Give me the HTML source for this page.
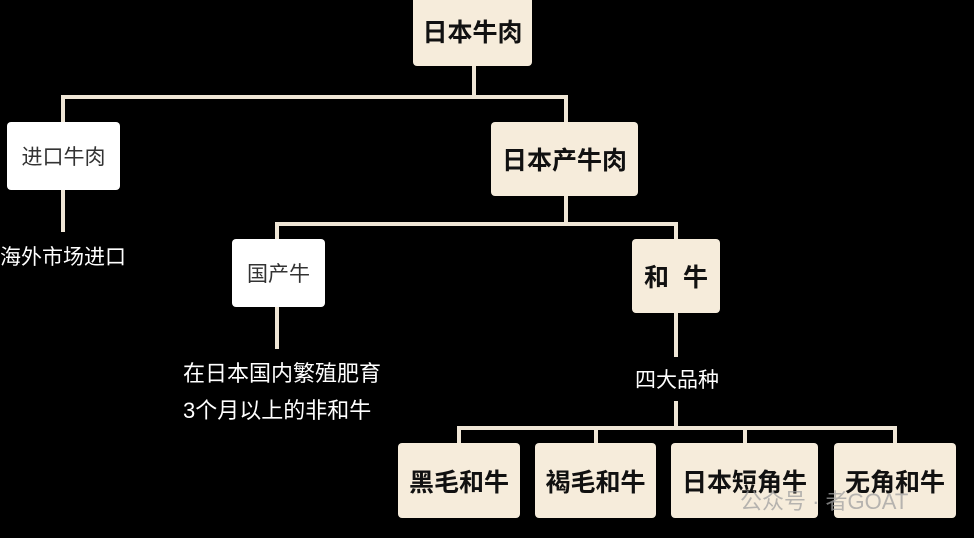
<!DOCTYPE html>
<html><head><meta charset="utf-8"><style>
body{margin:0;width:974px;height:538px;background:#000;overflow:hidden;position:relative;font-family:"Liberation Sans","Noto Sans CJK SC",sans-serif}
.b{position:absolute;border-radius:4px;display:flex;align-items:center;justify-content:center;color:#111}
.c{background:#f6ecdb;font-weight:bold;font-size:25px}
.w{background:#fff;font-size:21px;color:#333}
.l{position:absolute;background:#efe6d6}
.t{position:absolute;color:#fff;font-size:21px;line-height:37px}
</style></head><body>
<div class="l" style="left:472px;top:64px;width:4px;height:35px"></div>
<div class="l" style="left:61px;top:95px;width:507px;height:4px"></div>
<div class="l" style="left:61px;top:95px;width:4px;height:30px"></div>
<div class="l" style="left:564px;top:95px;width:4px;height:30px"></div>
<div class="l" style="left:61px;top:190px;width:4px;height:42px"></div>
<div class="l" style="left:564px;top:194px;width:4px;height:32px"></div>
<div class="l" style="left:275px;top:222px;width:403px;height:4px"></div>
<div class="l" style="left:275px;top:222px;width:4px;height:20px"></div>
<div class="l" style="left:674px;top:222px;width:4px;height:20px"></div>
<div class="l" style="left:275px;top:305px;width:4px;height:44px"></div>
<div class="l" style="left:674px;top:311px;width:4px;height:46px"></div>
<div class="l" style="left:674px;top:401px;width:4px;height:28px"></div>
<div class="l" style="left:457px;top:426px;width:440px;height:4px"></div>
<div class="l" style="left:457px;top:426px;width:4px;height:20px"></div>
<div class="l" style="left:594px;top:426px;width:4px;height:20px"></div>
<div class="l" style="left:743px;top:426px;width:4px;height:20px"></div>
<div class="l" style="left:893px;top:426px;width:4px;height:20px"></div>

<div class="b c" style="left:413px;top:-4px;width:119px;height:70px">日本牛肉</div>
<div class="b w" style="left:7px;top:122px;width:113px;height:68px">进口牛肉</div>
<div class="b c" style="left:491px;top:122px;width:147px;height:74px">日本产牛肉</div>
<div class="b w" style="left:232px;top:239px;width:93px;height:68px">国产牛</div>
<div class="b c" style="left:632px;top:239px;width:88px;height:74px">和&nbsp;&nbsp;牛</div>
<div class="b c" style="left:398px;top:443px;width:122px;height:75px">黑毛和牛</div>
<div class="b c" style="left:535px;top:443px;width:121px;height:75px">褐毛和牛</div>
<div class="b c" style="left:671px;top:443px;width:147px;height:75px">日本短角牛</div>
<div class="b c" style="left:834px;top:443px;width:122px;height:75px">无角和牛</div>

<div class="t" style="left:0;top:239px">海外市场进口</div>
<div class="t" style="left:183px;top:355px;font-size:22px">在日本国内繁殖肥育<br>3个月以上的非和牛</div>
<div class="t" style="left:635px;top:362px">四大品种</div>
<div style="position:absolute;left:740px;top:484px;color:rgba(160,160,160,.75);font-size:22px">公众号 · 者GOAT</div>
</body></html>
